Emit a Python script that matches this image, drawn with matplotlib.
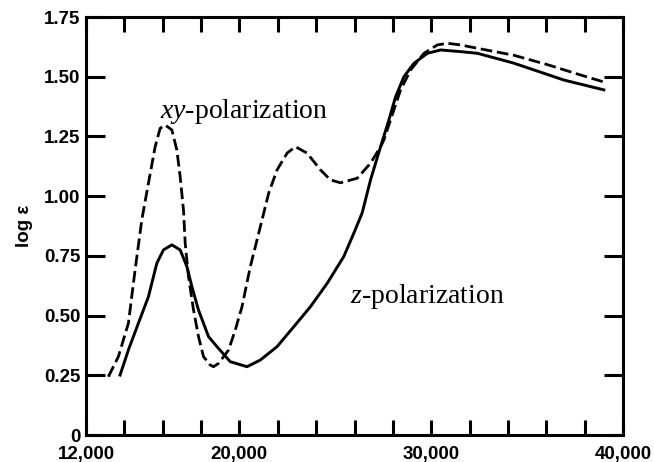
import matplotlib.pyplot as plt
from matplotlib.ticker import FixedLocator, FuncFormatter

plt.rcParams['mathtext.fontset'] = 'custom'
plt.rcParams['mathtext.rm'] = 'Liberation Serif'
plt.rcParams['mathtext.it'] = 'Liberation Serif:italic'

# wavenumber (cm-1) vs log eps
xy_wn = [13165, 13687, 14210, 14560, 14910, 15255, 15605, 15866, 16127, 16477,
         16738, 16910, 17083, 17172, 17344, 17605, 17866, 18128, 18478, 18650,
         18911, 19434, 19784, 20134, 20567, 21090, 21523, 21962, 22485, 22918,
         23530, 24224, 24746, 25269, 26141, 26836, 27359, 27530, 28053, 28403,
         28926, 29620, 30320, 30843, 31535, 32410, 34300, 36080, 37800, 39000]
xy_loge = [0.244, 0.328, 0.468, 0.691, 0.901, 1.054, 1.207, 1.284, 1.298, 1.277,
           1.193, 1.081, 0.942, 0.803, 0.663, 0.524, 0.412, 0.328, 0.293, 0.286,
           0.300, 0.356, 0.440, 0.537, 0.705, 0.872, 1.012, 1.110, 1.180, 1.207,
           1.180, 1.110, 1.068, 1.056, 1.075, 1.138, 1.207, 1.235, 1.361, 1.445,
           1.528, 1.598, 1.633, 1.640, 1.633, 1.619, 1.590, 1.550, 1.507, 1.478]

z_wn = [13776, 14210, 14732, 15255, 15693, 16038, 16477, 16910, 17261, 17522,
        17866, 18389, 18828, 19522, 20395, 21090, 21962, 22830, 23700, 24575,
        25440, 25965, 26400, 26836, 27359, 27793, 28142, 28576, 29098, 29798,
        30490, 31535, 32410, 34300, 36920, 39000]
z_loge = [0.251, 0.356, 0.468, 0.579, 0.719, 0.775, 0.796, 0.775, 0.705, 0.621,
          0.523, 0.412, 0.370, 0.307, 0.286, 0.314, 0.370, 0.453, 0.537, 0.635,
          0.747, 0.845, 0.930, 1.068, 1.207, 1.319, 1.416, 1.500, 1.556, 1.598,
          1.612, 1.605, 1.598, 1.557, 1.486, 1.445]

x_ticks = list(range(12000, 40001, 2000))
x_labeled = [12000, 20000, 30000, 40000]
y_ticks = [0, 0.25, 0.5, 0.75, 1.0, 1.25, 1.5, 1.75]
y_labels = ['0', '0.25', '0.50', '0.75', '1.00', '1.25', '1.50', '1.75']

fig = plt.figure(figsize=(6.54, 4.62), dpi=100)
ax = fig.add_axes([0.1315, 0.0584, 0.8211, 0.9048])

ax.plot(xy_wn, xy_loge, color='black', lw=2.0, dashes=(4.2, 1.7))
ax.plot(z_wn, z_loge, color='black', lw=2.1)

ax.set_xlim(12000, 40000)
ax.set_ylim(0, 1.75)

ax.xaxis.set_major_locator(FixedLocator(x_ticks))
ax.xaxis.set_major_formatter(FuncFormatter(
    lambda v, p: '{:,}'.format(int(v)) if int(v) in x_labeled else ''))
ax.set_yticks(y_ticks)
ax.set_yticklabels(y_labels)

for lab in ax.get_xticklabels() + ax.get_yticklabels():
    lab.set_fontfamily('Liberation Sans')
    lab.set_fontweight('bold')
    lab.set_fontsize(13.5)

ax.tick_params(axis='x', direction='in', length=11, width=2.2, top=True,
               pad=8)
ax.tick_params(axis='y', direction='in', length=14, width=2.2, right=True,
               pad=4)
for s in ax.spines.values():
    s.set_linewidth(2.2)

ax.set_ylabel('log ε', fontfamily='Liberation Sans', fontweight='bold',
              fontsize=13.5, labelpad=8)

ax.text(15866, 1.327, r'$\mathit{xy}$-polarization', fontsize=20,
        fontfamily='Liberation Serif', va='baseline', ha='left')
ax.text(25791, 0.553, r'$\mathit{z}$-polarization', fontsize=20,
        fontfamily='Liberation Serif', va='baseline', ha='left')

fig.savefig('out.png', dpi=100)
